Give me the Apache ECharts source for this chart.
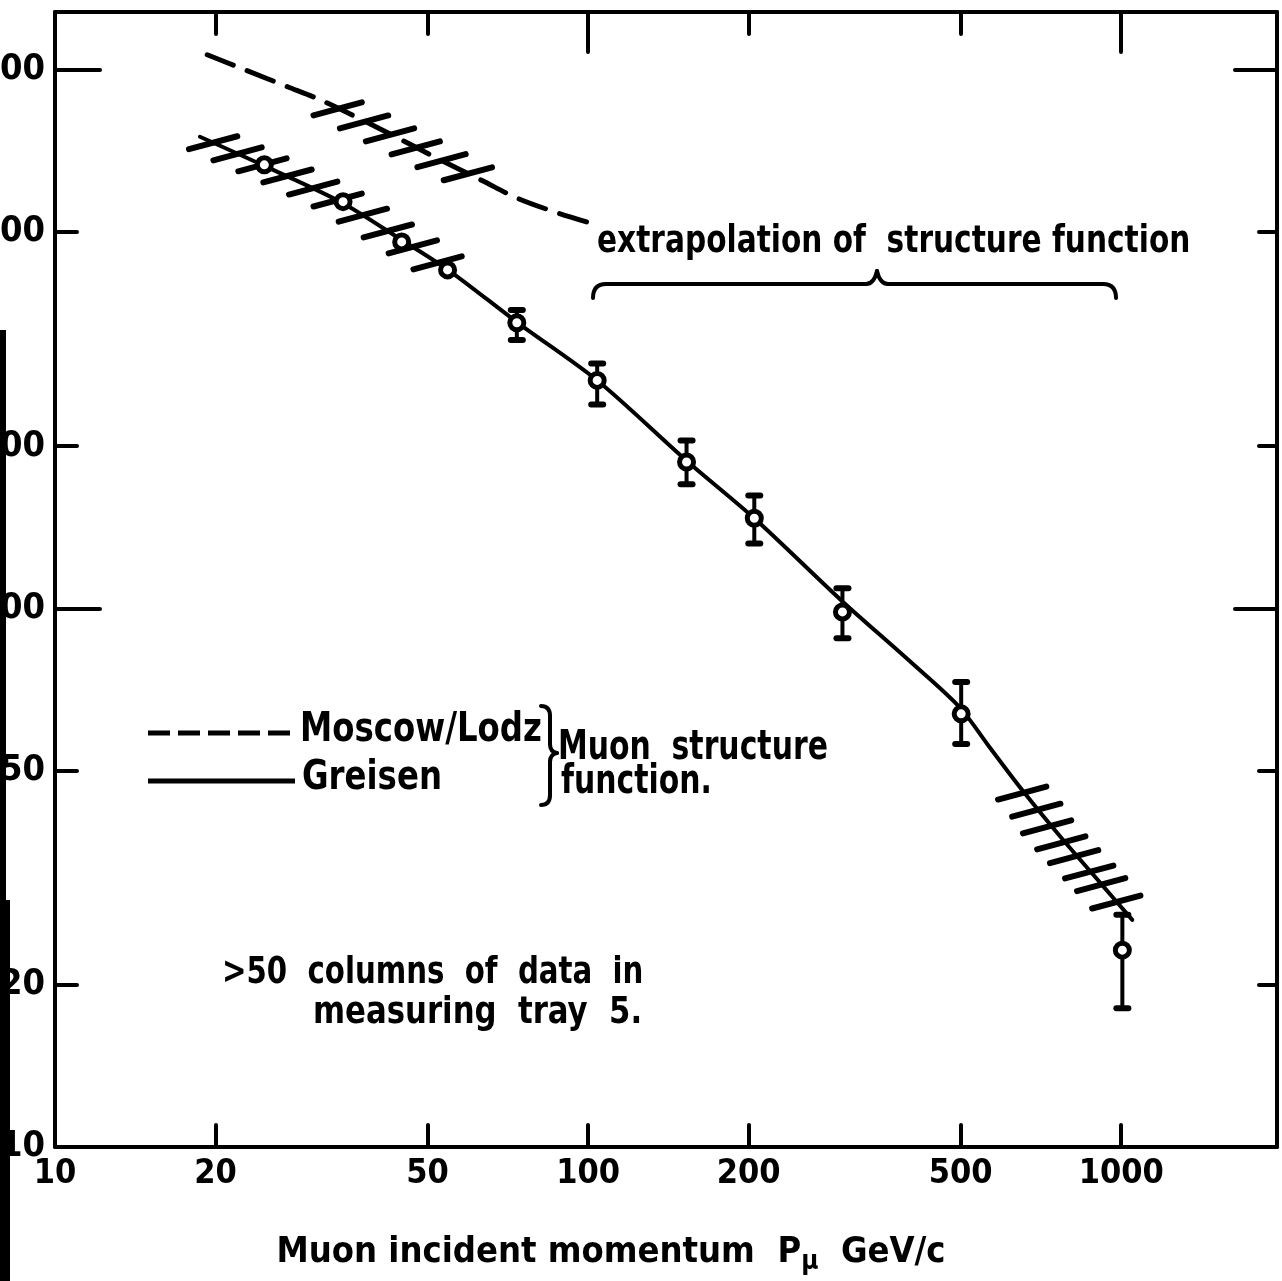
<!DOCTYPE html>
<html><head><meta charset="utf-8">
<script src="https://cdn.jsdelivr.net/npm/echarts@6/dist/echarts.min.js"></script>
<style>html,body{margin:0;padding:0;background:#fff;overflow:hidden}#c{width:1282px;height:1281px}</style>
</head><body><div id="c"></div><script>
// ---- data ----
const xTickLabels = [10, 20, 50, 100, 200, 500, 1000];
const yTickLabels = [10, 20, 50, 100, 200, 500, 1000];
const minorTickValues = [20, 50, 200, 500];

// measured points (momentum GeV/c, intensity)
const dataP    = [24.7, 34.7, 44.7, 54.5, 73.5, 104, 153, 205, 300, 501, 1005];
const dataI    = [666, 569, 479, 425, 339, 265, 187, 147, 98.5, 63.7, 23.2];
const errLow   = [null, null, null, null, 315, 239, 170, 132, 88, 56, 18.1];
const errHigh  = [null, null, null, null, 358, 285, 205, 162, 109, 73, 27];

// Greisen structure function (solid)
const greisenP = [18.7, 24.7, 34.6, 44.7, 55.0, 73.8, 104.2, 153, 205, 300, 400, 497, 566, 652, 772, 917, 1049];
const greisenI = [751, 663, 566, 483, 423, 339, 264.6, 188, 147, 103, 80, 65.6, 55.3, 46.0, 37.5, 30.8, 26.4];

// Moscow/Lodz structure function (dashed)
const moscowP = [19.3, 22.7, 27.3, 31.4, 37.3, 44.3, 52.7, 63.4, 73.5, 87.3, 100.6];
const moscowI = [1066, 1000, 930, 880, 811, 744, 681, 622, 578, 543, 520];

// hatch marks along the curves
const hatchLeftP  = [19.8, 22.0, 24.5, 27.3, 30.5, 33.9, 37.8, 42.1, 46.9, 52.2];
const hatchLeftI  = [732, 698, 666, 635, 603, 573, 537, 502, 469, 438];
const hatchMoscowP = [33.9, 38.0, 42.5, 47.5, 53.1, 59.5];
const hatchMoscowI = [846, 800, 757, 716, 678, 641];
const hatchRightP = [652, 693, 726, 772, 816, 871, 917, 979];
const hatchRightI = [45.4, 42.2, 39.3, 36.7, 34.6, 32.4, 30.7, 28.5];

// ---- build ----
const FONT = '"DejaVu Sans Condensed", "Liberation Sans Narrow", "Noto Sans", sans-serif';
const zip = (a, b) => a.map((v, i) => [v, b[i]]);
const errData = dataP.map((p, i) => [p, errLow[i], errHigh[i]]).filter(d => d[1] != null);
const hatchData = zip(hatchLeftP, hatchLeftI).concat(zip(hatchMoscowP, hatchMoscowI), zip(hatchRightP, hatchRightI));

const chart = echarts.init(document.getElementById('c'), null, {renderer: 'canvas'});
const axisLineStyle = {color: '#000', width: 4};
const tickStyle = {color: '#000', width: 4, cap: 'round'};
const X_MIN = 10, X_MAX = 1960, Y_MIN = 10, Y_MAX = 1280;

function xAx(extra) {
  return Object.assign({type: 'log', logBase: 10, min: X_MIN, max: X_MAX, splitLine: {show: false},
    axisLabel: {show: false}, axisLine: {show: false}, axisTick: {show: false}}, extra);
}
function yAx(extra) {
  return Object.assign({type: 'log', logBase: 10, min: Y_MIN, max: Y_MAX, splitLine: {show: false},
    axisLabel: {show: false}, axisLine: {show: false}, axisTick: {show: false}}, extra);
}
const stroke = {stroke: '#000', lineWidth: 4, fill: null, lineCap: 'round'};
function qc(x1, y1, cx, cy, x2, y2) {
  return {type: 'bezierCurve', shape: {x1, y1, x2, y2, cpx1: cx, cpy1: cy}, style: stroke};
}
function ln(x1, y1, x2, y2) {
  return {type: 'line', shape: {x1, y1, x2, y2}, style: stroke};
}
function txt(x, y, text, size, sx) {
  return {type: 'text', x, y, scaleX: sx, style: {text, font: 'bold ' + size + 'px ' + FONT, fill: '#000', verticalAlign: 'middle', align: 'left'}};
}

const option = {
  backgroundColor: '#fff',
  animation: false,
  grid: {left: 55, right: 5, top: 12, bottom: 134, outerBoundsMode: 'none', containLabel: false},
  xAxis: [
    xAx({position: 'bottom',
      axisLine: {show: true, lineStyle: axisLineStyle},
      axisTick: {show: true, inside: true, length: 22, lineStyle: tickStyle, customValues: [20, 50, 100, 200, 500, 1000]},
      axisLabel: {show: true, customValues: xTickLabels, margin: 10, color: '#000', fontFamily: FONT, fontWeight: 'bold', fontSize: 34,
        showMinLabel: true, showMaxLabel: true, hideOverlap: false, formatter: v => String(Math.round(v))},
      name: '{a|Muon incident momentum  P}{s|μ}{a|  GeV/c}', nameLocation: 'middle', nameGap: 84,
      nameTextStyle: {padding: [0, 110, 0, 0], rich: {
        a: {fontFamily: FONT, fontWeight: 'bold', fontSize: 36, lineHeight: 44, color: '#000'},
        s: {fontFamily: FONT, fontWeight: 'bold', fontSize: 26, lineHeight: 26, height: 26, padding: [18, 0, 0, 0], color: '#000'}}}
    }),
    xAx({position: 'top', axisLine: {show: true, lineStyle: axisLineStyle},
      axisTick: {show: true, inside: true, length: 40, lineStyle: tickStyle, customValues: [100, 1000]}}),
    xAx({position: 'top',
      axisTick: {show: true, inside: true, length: 22, lineStyle: tickStyle, customValues: minorTickValues}})
  ],
  yAxis: [
    yAx({position: 'left', axisLine: {show: true, lineStyle: axisLineStyle},
      axisTick: {show: true, inside: true, length: 45, lineStyle: tickStyle, customValues: [100, 1000]},
      axisLabel: {show: true, customValues: yTickLabels, margin: 10, color: '#000', fontFamily: FONT, fontWeight: 'bold', fontSize: 36,
        showMinLabel: true, showMaxLabel: true, hideOverlap: false, formatter: v => String(Math.round(v))}}),
    yAx({position: 'left',
      axisTick: {show: true, inside: true, length: 22, lineStyle: tickStyle, customValues: minorTickValues}}),
    yAx({position: 'right', axisLine: {show: true, lineStyle: axisLineStyle},
      axisTick: {show: true, inside: true, length: 42, lineStyle: tickStyle, customValues: [100, 1000]}}),
    yAx({position: 'right',
      axisTick: {show: true, inside: true, length: 18, lineStyle: tickStyle, customValues: minorTickValues}})
  ],
  series: [
    {name: 'Moscow/Lodz', type: 'line', data: zip(moscowP, moscowI), symbol: 'none', smooth: 0.3,
      lineStyle: {color: '#000', width: 5, type: [28, 15], cap: 'round'}, z: 3},
    {name: 'Greisen', type: 'line', data: zip(greisenP, greisenI), symbol: 'none', smooth: 0.3,
      lineStyle: {color: '#000', width: 4, cap: 'round'}, z: 3},
    {name: 'hatch', type: 'custom', data: hatchData, z: 4,
      renderItem: (params, api) => {
        const c = api.coord([api.value(0), api.value(1)]);
        const h = 25, a = 15 * Math.PI / 180;
        const dx = h * Math.cos(a), dy = h * Math.sin(a);
        return {type: 'line', shape: {x1: c[0] - dx, y1: c[1] + dy, x2: c[0] + dx, y2: c[1] - dy},
          style: {stroke: '#000', lineWidth: 6, lineCap: 'round'}};
      }},
    {name: 'errors', type: 'custom', data: errData, z: 5,
      renderItem: (params, api) => {
        const x = api.value(0);
        const lo = api.coord([x, api.value(1)]), hi = api.coord([x, api.value(2)]);
        const cap = 6;
        const st = {stroke: '#000', lineWidth: 4, lineCap: 'round'};
        const cs = {stroke: '#000', lineWidth: 6, lineCap: 'round'};
        return {type: 'group', children: [
          {type: 'line', shape: {x1: lo[0], y1: lo[1], x2: hi[0], y2: hi[1]}, style: st},
          {type: 'line', shape: {x1: lo[0] - cap, y1: lo[1], x2: lo[0] + cap, y2: lo[1]}, style: cs},
          {type: 'line', shape: {x1: hi[0] - cap, y1: hi[1], x2: hi[0] + cap, y2: hi[1]}, style: cs}
        ]};
      }},
    {name: 'data', type: 'scatter', data: zip(dataP, dataI), symbol: 'circle', symbolSize: 14, z: 6,
      itemStyle: {color: '#fff', borderColor: '#000', borderWidth: 5, opacity: 1}}
  ],
  graphic: [
    // scanned page edge
    {type: 'rect', shape: {x: 0, y: 330, width: 6, height: 951}, style: {fill: '#000'}, z: 100},
    {type: 'rect', shape: {x: 0, y: 900, width: 10, height: 381}, style: {fill: '#000'}, z: 100},
    // extrapolation annotation
    txt(597, 242, 'extrapolation of  structure function', 37, 0.89),
    qc(593, 298, 593, 284, 606, 284), ln(606, 284, 866, 284), qc(866, 284, 874, 284, 877, 271),
    qc(877, 271, 880, 284, 888, 284), ln(888, 284, 1103, 284), qc(1103, 284, 1116, 284, 1116, 298),
    // legend
    {type: 'line', shape: {x1: 148, y1: 733, x2: 295, y2: 733}, style: {stroke: '#000', lineWidth: 5, lineDash: [22, 8]}},
    {type: 'line', shape: {x1: 148, y1: 781, x2: 295, y2: 781}, style: {stroke: '#000', lineWidth: 5}},
    txt(300, 731, 'Moscow/Lodz', 40, 0.9),
    txt(302, 779, 'Greisen', 40, 0.9),
    qc(541, 706, 550, 706, 550, 716), ln(550, 716, 550, 744), qc(550, 744, 550, 752, 557, 753),
    qc(557, 753, 550, 754, 550, 762), ln(550, 762, 550, 795), qc(550, 795, 550, 805, 541, 805),
    txt(558, 749, 'Muon  structure', 40, 0.83),
    txt(561, 783, 'function.', 40, 0.83),
    // note
    txt(222, 973, '>50  columns  of  data  in', 38, 0.855),
    txt(313, 1013, 'measuring  tray  5.', 38, 0.9)
  ]
};
chart.setOption(option);
</script></body></html>
